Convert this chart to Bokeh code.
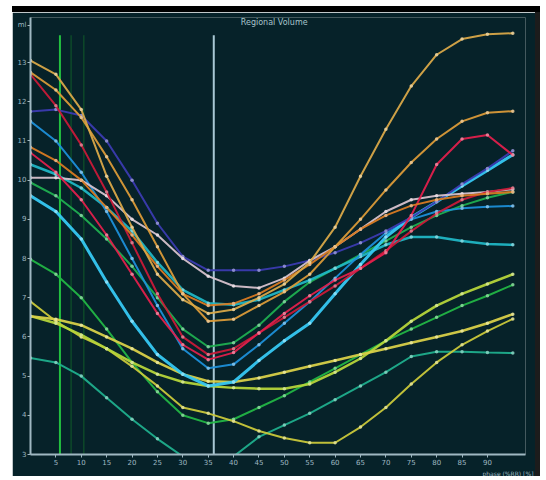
from bokeh.plotting import figure
from bokeh.models import Label, Range1d, FixedTicker, Title, Div
from bokeh.layouts import column, row
from bokeh.embed import file_html
from bokeh.resources import INLINE

# ---- data ----
phase = [0, 5, 10, 15, 20, 25, 30, 35, 40, 45, 50, 55, 60, 65, 70, 75, 80, 85, 90, 95]

orange_a = [13.05, 12.7, 11.8, 10.1, 8.8, 7.6, 6.95, 6.6, 6.7, 7.0, 7.35, 7.9, 8.8, 10.1, 11.3, 12.4, 13.2, 13.6, 13.72, 13.75]
orange_b = [12.75, 12.3, 11.6, 10.6, 9.5, 8.3, 7.1, 6.4, 6.45, 6.8, 7.15, 7.6, 8.3, 9.0, 9.75, 10.45, 11.05, 11.5, 11.72, 11.76]
orange_c = [10.84, 10.5, 10.0, 9.3, 8.6, 7.8, 7.1, 6.8, 6.85, 7.1, 7.45, 7.85, 8.3, 8.75, 9.1, 9.35, 9.5, 9.6, 9.65, 9.7]
red_a = [12.7, 11.9, 10.9, 9.7, 8.4, 7.1, 6.0, 5.55, 5.7, 6.1, 6.5, 6.9, 7.3, 7.75, 8.2, 8.7, 9.15, 9.5, 9.7, 9.8]
red_b = [10.7, 10.2, 9.5, 8.6, 7.6, 6.6, 5.8, 5.42, 5.6, 6.1, 6.6, 7.05, 7.45, 7.75, 8.15, 9.1, 10.4, 11.05, 11.15, 10.64]
navy = [11.75, 11.8, 11.65, 11.0, 10.0, 8.9, 8.05, 7.7, 7.7, 7.7, 7.8, 7.95, 8.15, 8.4, 8.7, 9.05, 9.45, 9.9, 10.3, 10.75]
white = [10.06, 10.06, 10.0, 9.6, 9.0, 8.6, 8.0, 7.55, 7.3, 7.25, 7.5, 7.95, 8.3, 8.75, 9.2, 9.5, 9.6, 9.65, 9.7, 9.77]
cyan_top = [10.4, 10.15, 9.8, 9.3, 8.7, 7.9, 7.2, 6.86, 6.82, 6.95, 7.2, 7.45, 7.75, 8.05, 8.35, 8.55, 8.55, 8.45, 8.37, 8.35]
green_a = [9.94, 9.6, 9.1, 8.5, 7.8, 7.0, 6.2, 5.75, 5.85, 6.3, 6.9, 7.4, 7.75, 8.1, 8.45, 8.8, 9.1, 9.35, 9.55, 9.7]
cyan_bright = [9.6, 9.2, 8.5, 7.4, 6.4, 5.55, 5.05, 4.75, 4.85, 5.4, 5.9, 6.35, 7.1, 7.85, 8.55, 9.05, 9.45, 9.85, 10.25, 10.65]
blue = [11.5, 11.0, 10.2, 9.2, 8.0, 6.8, 5.7, 5.2, 5.3, 5.8, 6.35, 6.9, 7.5, 8.1, 8.65, 9.0, 9.2, 9.28, 9.32, 9.34]
yellow_a = [6.53, 6.45, 6.3, 6.0, 5.7, 5.35, 5.05, 4.87, 4.85, 4.95, 5.1, 5.25, 5.4, 5.55, 5.7, 5.85, 6.0, 6.15, 6.35, 6.58]
yellow_b = [6.9, 6.4, 6.0, 5.7, 5.25, 4.75, 4.2, 4.05, 3.85, 3.6, 3.42, 3.3, 3.3, 3.7, 4.2, 4.8, 5.35, 5.8, 6.15, 6.46]
yellow_green = [6.53, 6.35, 6.05, 5.7, 5.35, 5.05, 4.85, 4.75, 4.7, 4.68, 4.68, 4.8, 5.1, 5.45, 5.9, 6.4, 6.8, 7.1, 7.35, 7.6]
green_b = [7.98, 7.6, 7.0, 6.2, 5.35, 4.6, 4.0, 3.8, 3.9, 4.2, 4.5, 4.85, 5.2, 5.55, 5.9, 6.2, 6.5, 6.8, 7.05, 7.33]
teal = [5.46, 5.35, 5.0, 4.45, 3.9, 3.4, 2.95, 2.75, 2.95, 3.45, 3.75, 4.05, 4.4, 4.75, 5.1, 5.5, 5.62, 5.62, 5.6, 5.59]

marker_phases = [5.8, 36.1]
faint_phases = [8.0, 10.5]

y_ticks = [3, 4, 5, 6, 7, 8, 9, 10, 11, 12, 13]
y_unit_pos = 13.95
x_ticks = [5, 10, 15, 20, 25, 30, 35, 40, 45, 50, 55, 60, 65, 70, 75, 80, 85, 90]

title_text = "Regional Volume"
unit_text = "ml"
x_label_text = "phase (%RR) [%]"

series = [
    (teal, "#1fae8c", 2),
    (green_b, "#22b545", 2),
    (yellow_b, "#c9c83a", 2),
    (yellow_green, "#b5d53a", 2.5),
    (yellow_a, "#d8d048", 2.5),
    (green_a, "#1fae50", 2),
    (cyan_top, "#20b6c4", 2.5),
    (blue, "#1c8fd8", 2),
    (cyan_bright, "#36c8f2", 3),
    (navy, "#3b3bb0", 2),
    (white, "#d6c2cc", 2),
    (red_a, "#c81a38", 2),
    (red_b, "#e0204c", 2),
    (orange_c, "#d87a22", 2),
    (orange_b, "#d99a38", 2),
    (orange_a, "#d8a848", 2),
]

BG = "#062229"
AX = "#9fb8c2"


def lighten(c, f=0.45):
    r, g, b = int(c[1:3], 16), int(c[3:5], 16), int(c[5:7], 16)
    r, g, b = [int(v + (255 - v) * f) for v in (r, g, b)]
    return "#%02x%02x%02x" % (r, g, b)


p = figure(width=523, height=464, output_backend="svg", toolbar_location=None,
           x_range=Range1d(0, 97.5), y_range=Range1d(3.0, 14.15),
           min_border_left=18, min_border_right=10, min_border_top=5, min_border_bottom=0,
           margin=0)
p.background_fill_color = BG
p.border_fill_color = BG
p.outline_line_color = None
p.grid.visible = False

for ph in faint_phases:
    p.segment(x0=ph, y0=3.0, x1=ph, y1=13.7, line_color="#0f5a2a", line_width=1.5, line_alpha=0.7)
p.segment(x0=marker_phases[0], y0=3.0, x1=marker_phases[0], y1=13.7, line_color="#22c040", line_width=2)
p.segment(x0=marker_phases[1], y0=3.0, x1=marker_phases[1], y1=13.7, line_color="#a8c8d4", line_width=2)

for vals, col, w in series:
    p.line(phase, vals, line_color=col, line_width=w, line_alpha=0.95)
    p.scatter(phase, vals, size=3.5, fill_color=lighten(col), line_color=None, fill_alpha=0.9)

for ax in (p.xaxis[0], p.yaxis[0]):
    ax.axis_line_color = AX
    ax.axis_line_width = 2
    ax.major_tick_line_color = AX
    ax.major_tick_out = 3
    ax.major_tick_in = 0
    ax.minor_tick_line_color = None
    ax.major_label_text_color = AX
    ax.major_label_text_font_size = "7px"
    ax.major_label_standoff = 1
    ax.major_label_text_font = "DejaVu Sans"

p.xaxis[0].ticker = FixedTicker(ticks=x_ticks)
p.yaxis[0].ticker = FixedTicker(ticks=y_ticks + [y_unit_pos])
p.yaxis[0].major_label_overrides = {y_unit_pos: unit_text}

p.add_layout(Label(x=48, y=14.02, text=title_text, text_align="center", text_baseline="middle",
                   text_color="#a8c4cc", text_font_size="8px", text_font="DejaVu Sans"))

xt = Title(text=x_label_text, align="right", text_font_size="6px", text_color=AX,
           text_font="DejaVu Sans", text_font_style="normal", standoff=0, offset=-8,
           background_fill_color=BG)
p.add_layout(xt, "below")

band = Div(text="", width=528, height=6, margin=(6, 0, 0, 12), styles={"background-color": "black"})
edge = Div(text="", width=5, height=464, margin=0, styles={"background-color": "#1c1c1c"})
body = row(p, edge, spacing=0, margin=(0, 0, 0, 12))
layout = column(band, body, spacing=0, margin=0)

open("out.html", "w").write(file_html(layout, INLINE))
